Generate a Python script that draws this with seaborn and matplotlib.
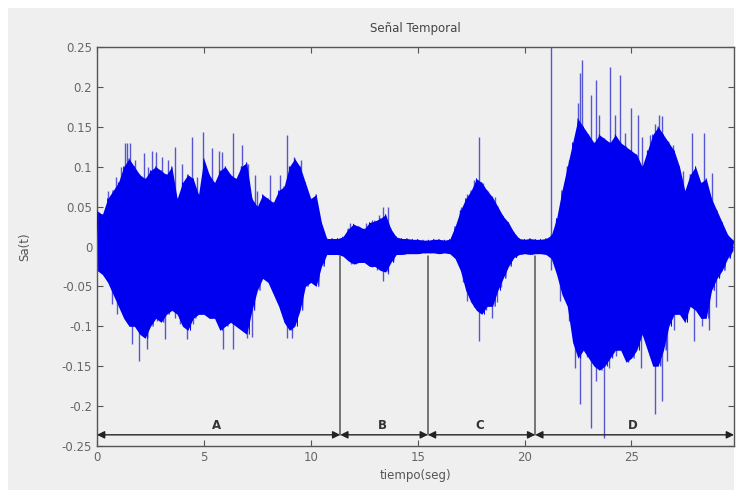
import numpy as np
import pandas as pd
import matplotlib
matplotlib.use("Agg")
import matplotlib.pyplot as plt
import seaborn as sns
from matplotlib.patches import Rectangle

# ---------------- data ----------------
t_env = [i * 0.25 for i in range(120)]  # sample instants (s) of envelope readings
upper_env = [0.045, 0.04, 0.06, 0.07, 0.08, 0.10, 0.11, 0.10, 0.09, 0.085,
             0.095, 0.10, 0.095, 0.09, 0.10, 0.06, 0.08, 0.09, 0.085, 0.065,
             0.11, 0.09, 0.08, 0.095, 0.10, 0.09, 0.085, 0.10, 0.105, 0.06,
             0.05, 0.065, 0.06, 0.055, 0.07, 0.075, 0.10, 0.11, 0.10, 0.08,
             0.06, 0.065, 0.03, 0.010, 0.010, 0.010, 0.012, 0.022, 0.028, 0.025,
             0.022, 0.03, 0.032, 0.035, 0.04, 0.022, 0.012, 0.010, 0.010, 0.009,
             0.009, 0.008, 0.008, 0.009, 0.009, 0.008, 0.009, 0.025, 0.045, 0.06,
             0.07, 0.085, 0.08, 0.07, 0.062, 0.05, 0.038, 0.03, 0.018, 0.010,
             0.009, 0.010, 0.009, 0.009, 0.010, 0.014, 0.035, 0.07, 0.10, 0.13,
             0.16, 0.15, 0.14, 0.13, 0.14, 0.135, 0.13, 0.14, 0.13, 0.125,
             0.12, 0.115, 0.10, 0.12, 0.14, 0.15, 0.14, 0.13, 0.12, 0.10,
             0.07, 0.09, 0.10, 0.08, 0.085, 0.06, 0.045, 0.03, 0.015, 0.008]
lower_env = [-0.03, -0.035, -0.045, -0.06, -0.075, -0.09, -0.10, -0.10, -0.11, -0.115,
             -0.10, -0.09, -0.095, -0.085, -0.08, -0.085, -0.10, -0.105, -0.09, -0.085,
             -0.085, -0.09, -0.09, -0.105, -0.10, -0.095, -0.10, -0.105, -0.11, -0.08,
             -0.055, -0.04, -0.045, -0.06, -0.075, -0.095, -0.105, -0.10, -0.08, -0.05,
             -0.045, -0.05, -0.025, -0.010, -0.010, -0.010, -0.012, -0.018, -0.022, -0.02,
             -0.02, -0.025, -0.025, -0.03, -0.032, -0.02, -0.010, -0.010, -0.009, -0.009,
             -0.009, -0.008, -0.008, -0.008, -0.009, -0.008, -0.009, -0.015, -0.03, -0.055,
             -0.07, -0.08, -0.085, -0.075, -0.075, -0.055, -0.04, -0.025, -0.014, -0.010,
             -0.009, -0.010, -0.009, -0.009, -0.010, -0.015, -0.035, -0.06, -0.075, -0.12,
             -0.14, -0.13, -0.14, -0.15, -0.155, -0.15, -0.14, -0.13, -0.13, -0.145,
             -0.14, -0.13, -0.11, -0.13, -0.15, -0.15, -0.13, -0.10, -0.085, -0.085,
             -0.095, -0.075, -0.08, -0.09, -0.09, -0.055, -0.04, -0.03, -0.015, -0.005]

spike_pos_t = [0.5, 0.9, 1.1, 1.3, 1.4, 1.55, 1.78, 2.2, 2.4, 2.55, 2.75, 3.05, 3.3,
               3.65, 3.97, 4.45, 4.67, 4.95, 5.37, 5.7, 5.85, 6.35, 6.78, 7.05, 7.4,
               7.5, 8.1, 8.55, 8.9, 9.2, 9.55,
               11.85, 12.3, 12.6, 12.85, 13.2, 13.4, 13.6,
               17.05, 17.3, 17.65, 17.85, 18.05, 18.3, 18.6,
               21.26, 22.1, 22.3, 22.5, 22.6, 22.7, 23.1, 23.35, 23.5, 24.0, 24.25,
               24.45, 24.7, 25.0, 25.3, 25.5, 25.85, 26.1, 26.3, 26.45, 26.7, 26.95,
               27.15, 27.4, 27.85, 28.4, 28.75]
spike_pos_v = [0.07, 0.087, 0.10, 0.13, 0.13, 0.13, 0.108, 0.117, 0.10, 0.12, 0.118,
               0.112, 0.108, 0.125, 0.104, 0.137, 0.087, 0.143, 0.123, 0.12, 0.118,
               0.142, 0.127, 0.104, 0.09, 0.07, 0.09, 0.09, 0.14, 0.112, 0.108,
               0.029, 0.025, 0.03, 0.033, 0.04, 0.049, 0.05,
               0.05, 0.066, 0.083, 0.137, 0.08, 0.07, 0.062,
               0.25, 0.108, 0.083, 0.18, 0.217, 0.234, 0.19, 0.209, 0.165, 0.225,
               0.165, 0.215, 0.142, 0.173, 0.165, 0.137, 0.14, 0.154, 0.165, 0.163,
               0.132, 0.127, 0.10, 0.095, 0.142, 0.142, 0.092]
spike_neg_t = [0.7, 0.93, 1.4, 1.64, 1.96, 2.33, 2.8, 3.18, 3.65, 3.88, 4.2, 4.5,
               4.75, 5.28, 5.75, 5.9, 6.35, 6.78, 7.0, 7.25, 8.9, 9.1,
               11.9, 12.3, 12.85, 13.1, 13.4, 13.6,
               17.1, 17.3, 17.5, 17.65, 17.85, 18.2, 18.5, 18.7, 18.9,
               21.26, 21.65, 22.1, 22.35, 22.6, 22.9, 23.1, 23.35, 23.7, 23.95, 24.3,
               24.6, 24.8, 25.45, 25.85, 26.1, 26.45, 26.65, 27.0, 27.5, 27.95, 28.3,
               28.65, 28.95]
spike_neg_v = [-0.072, -0.084, -0.093, -0.122, -0.143, -0.128, -0.093, -0.116, -0.09,
               -0.097, -0.116, -0.097, -0.072, -0.059, -0.097, -0.128, -0.128, -0.10,
               -0.115, -0.114, -0.115, -0.115,
               -0.022, -0.02, -0.026, -0.03, -0.043, -0.034,
               -0.045, -0.068, -0.07, -0.076, -0.118, -0.08, -0.089, -0.07, -0.051,
               -0.03, -0.068, -0.093, -0.152, -0.197, -0.139, -0.227, -0.168, -0.24,
               -0.152, -0.137, -0.118, -0.139, -0.152, -0.137, -0.21, -0.193, -0.143,
               -0.105, -0.095, -0.118, -0.10, -0.105, -0.076]

segment_bounds = [0.0, 11.38, 15.48, 20.5, 29.8]
segment_labels = ["A", "B", "C", "D"]
xticks = [0, 5, 10, 15, 20, 25]
yticks = [0.25, 0.2, 0.15, 0.1, 0.05, 0, -0.05, -0.1, -0.15, -0.2, -0.25]
ytick_labels = ["0.25", "0.2", "0.15", "0.1", "0.05", "0", "-0.05", "-0.1", "-0.15", "-0.2", "-0.25"]

# ---------------- figure ----------------
sns.set_style("ticks")
plt.rcParams["font.family"] = ["DejaVu Sans"]
W, H = 743, 497
fig = plt.figure(figsize=(W / 100, H / 100), dpi=100, facecolor="white")
fig.patches.append(Rectangle((8 / W, 1 - 490 / H), (734 - 8) / W, (490 - 8) / H,
                             transform=fig.transFigure, facecolor="#efefef",
                             edgecolor="none", zorder=-10))
ax = fig.add_axes([97 / W, 1 - 446 / H, (734 - 97) / W, (446 - 47) / H])
ax.set_zorder(1)
ax.set_facecolor("#efefef")

blue = "#0000f0"
# isolated peaks (behind the body so only the part sticking out shows)
ax.vlines(spike_pos_t, 0, spike_pos_v, color="#3030cc", lw=1.0, alpha=0.8, zorder=1.5)
ax.vlines(spike_neg_t, 0, spike_neg_v, color="#3030cc", lw=1.0, alpha=0.8, zorder=1.5)
# filled envelope body
ax.fill_between(t_env, lower_env, upper_env, color=blue, lw=0, zorder=2)
# oscillating trace between the upper and lower peaks
zz_t, zz_v = [], []
for ti, u, l in zip(t_env, upper_env, lower_env):
    zz_t += [ti, ti + 0.125]
    zz_v += [u, l]
df = pd.DataFrame({"t": zz_t, "v": zz_v})
sns.lineplot(data=df, x="t", y="v", sort=False, estimator=None, color=blue,
             lw=0.7, ax=ax, zorder=3)

# segment markers
y_arrow = -0.236
grey = "#555555"
for b in segment_bounds[1:-1]:
    ax.plot([b, b], [y_arrow, -0.012], color=grey, lw=1.1, zorder=4)
for i, lab in enumerate(segment_labels):
    a, b = segment_bounds[i], segment_bounds[i + 1]
    ax.annotate("", xy=(b, y_arrow), xytext=(a, y_arrow),
                arrowprops=dict(arrowstyle="<|-|>", color="#222222", lw=1.0,
                                mutation_scale=11, shrinkA=0, shrinkB=0), zorder=5)
    ax.text((a + b) / 2 - 0.1, y_arrow + 0.004, lab, ha="center", va="bottom",
            fontsize=8.5, color="#333333", fontweight="bold")

ax.set_xlim(0, 29.8)
ax.set_ylim(-0.25, 0.25)
ax.set_xticks(xticks)
ax.set_xticklabels([str(x) for x in xticks])
ax.set_yticks(yticks)
ax.set_yticklabels(ytick_labels)
ax.tick_params(direction="in", length=4, width=0.8, colors="#555555",
               labelsize=8.5, top=True, right=True, labelcolor="#666666")
for s in ax.spines.values():
    s.set_color("#555555")
    s.set_linewidth(1.0)
    s.set_visible(True)

ax.set_title("Señal Temporal", fontsize=8.5, color="#444444", pad=11)
ax.set_xlabel("tiempo(seg)", fontsize=8.5, color="#555555", labelpad=4)
ax.set_ylabel("Sa(t)", fontsize=8.5, color="#555555", labelpad=22)

fig.savefig("out.png", dpi=100, facecolor="white")
